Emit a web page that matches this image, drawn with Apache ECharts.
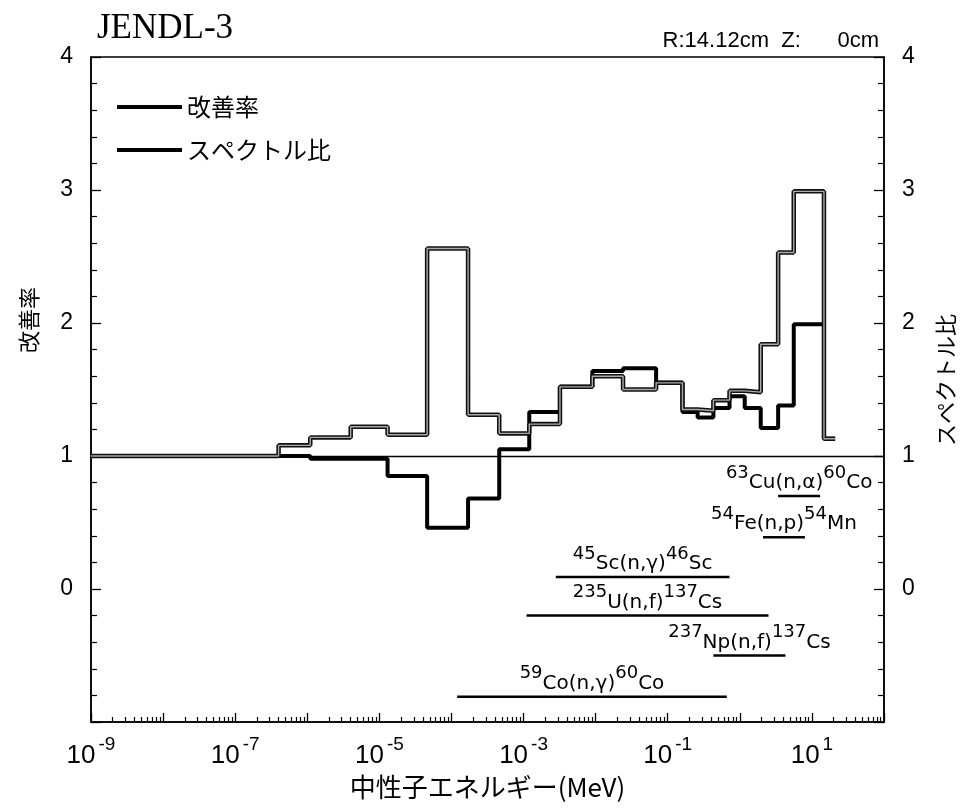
<!DOCTYPE html>
<html>
<head>
<meta charset="utf-8">
<title>JENDL-3</title>
<script src="https://cdn.jsdelivr.net/npm/echarts@6/dist/echarts.min.js"></script>
<style>
html, body { margin: 0; padding: 0; background: #fff; }
#chart { width: 964px; height: 808px; }
</style>
</head>
<body>
<div id="chart"></div>
<script>
"use strict";

/*****Data start*****/
// energy group boundaries (MeV)
var groupEdges = [1e-9, 4e-7, 1.1e-6, 4e-6, 1.3e-5, 4.6e-5, 1.7e-4, 4.6e-4, 1.2e-3, 3.2e-3, 9e-3,
	2.4e-2, 6.9e-2, 0.16, 0.26, 0.43, 0.72, 1.17, 1.95, 3.4, 5.6, 14.7, 21];
// スペクトル比 per group
var spectrumRatio = [1.0, 1.08, 1.14, 1.22, 1.16, 2.56, 1.31, 1.17, 1.24, 1.52, 1.60,
	1.50, 1.55, 1.35, 1.34, 1.42, 1.49, 1.48, 1.84, 2.53, 2.99, 1.13];
// 改善率 per group
var improveRate = [1.0, 1.0, 0.98, 0.98, 0.85, 0.46, 0.68, 1.05, 1.33, 1.52, 1.64,
	1.66, 1.55, 1.33, 1.29, 1.36, 1.45, 1.36, 1.21, 1.38, 1.99, 1.13];

// reaction response ranges
var reactionLabels = [
	'{s|63}{b|Cu(n,α)}{s|60}{b|Co}',
	'{s|54}{b|Fe(n,p)}{s|54}{b|Mn}',
	'{s|45}{b|Sc(n,γ)}{s|46}{b|Sc}',
	'{s|235}{b|U(n,f)}{s|137}{b|Cs}',
	'{s|237}{b|Np(n,f)}{s|137}{b|Cs}',
	'{s|59}{b|Co(n,γ)}{s|60}{b|Co}'
];
var reactionLow = [3.4, 2.1, 2.8e-3, 1.1e-3, 0.43, 1.2e-4];
var reactionHigh = [13, 8, 0.72, 2.5, 4.3, 0.66];
var reactionLevel = [0.70, 0.39, 0.09, -0.2, -0.5, -0.81];

// tick values
var decadeTicks = [];
var labelTicks = [];
var minorTicks = [];
for (var e = -9; e <= 2; e++) {
	decadeTicks.push(Number('1e' + e));
	if (Math.abs(e) % 2 === 1) labelTicks.push(Number('1e' + e));
	if (e < 2) {
		for (var k = 2; k <= 9; k++) minorTicks.push(Number(k + 'e' + e));
	}
}
/*****Data end*****/

var sansFont = "'Liberation Sans', Arial, sans-serif";
var noteFont = "'DejaVu Sans', sans-serif";
var jpFont = "'Noto Sans CJK JP', sans-serif";

var stepPoints = function(edges, vals) {
	var pts = [];
	for (var i = 0; i < vals.length; i++) pts.push([edges[i], vals[i]]);
	pts.push([edges[vals.length], vals[vals.length - 1]]);
	return pts;
};

var reactionData = [];
for (var r = 0; r < reactionLabels.length; r++) {
	reactionData.push([reactionLow[r], reactionHigh[r], reactionLevel[r], r]);
}

var yAxisCommon = function(pos) {
	return {
		type: 'value',
		position: pos,
		min: -1,
		max: 4,
		interval: 1,
		axisLine: { show: true, onZero: false, lineStyle: { color: '#000', width: 1.5 } },
		axisTick: { show: true, inside: true, length: 10, lineStyle: { color: '#000', width: 1.3 } },
		minorTick: { show: true, splitNumber: 5, length: 6, lineStyle: { color: '#000', width: 1.2 } },
		splitLine: { show: false },
		axisLabel: {
			color: '#000',
			fontSize: 23,
			fontFamily: sansFont,
			margin: 18,
			formatter: function(v) { return v < 0 ? '' : String(v); }
		}
	};
};

/*****E-Charts function start*****/
var chart = echarts.init(document.getElementById('chart'));
var option = {
	animation: false,
	backgroundColor: '#fff',
	title: [
		{
			text: 'JENDL-3',
			left: 92,
			top: 6,
			textStyle: { fontFamily: "'Liberation Serif', serif", fontSize: 35, fontWeight: 'normal', color: '#000' }
		},
		{
			text: 'R:14.12cm  Z:      0cm',
			right: 80,
			top: 25,
			textStyle: { fontFamily: sansFont, fontSize: 22, fontWeight: 'normal', color: '#000' }
		}
	],
	legend: {
		data: ['改善率', 'スペクトル比'],
		orient: 'vertical',
		left: 112,
		top: 90,
		icon: 'rect',
		itemWidth: 65,
		itemHeight: 4,
		itemGap: 19,
		textStyle: { fontFamily: jpFont, fontSize: 24, color: '#000' }
	},
	grid: {
		left: 91,
		right: 80,
		top: 57,
		bottom: 86,
		show: true,
		borderColor: '#000',
		borderWidth: 1.5
	},
	xAxis: [
		{
			type: 'log',
			logBase: 10,
			min: 1e-9,
			max: 1e2,
			position: 'bottom',
			name: '中性子エネルギー(MeV)',
			nameLocation: 'middle',
			nameGap: 52,
			nameTextStyle: { fontFamily: jpFont, fontSize: 26, color: '#000' },
			axisLine: { show: true, onZero: false, lineStyle: { color: '#000', width: 1.5 } },
			axisTick: { show: true, inside: true, length: 9, customValues: decadeTicks, lineStyle: { color: '#000', width: 1.3 } },
			splitLine: { show: false },
			axisLabel: {
				customValues: labelTicks,
				margin: 13,
				formatter: function(v) {
					return '{b|10}{e|' + Math.round(Math.log10(v)) + '}';
				},
				rich: {
					b: { fontFamily: sansFont, fontSize: 26, color: '#000', verticalAlign: 'bottom' },
					e: { fontFamily: sansFont, fontSize: 19, color: '#000', verticalAlign: 'bottom', padding: [0, 0, 15, 3] }
				}
			}
		},
		{
			type: 'log',
			logBase: 10,
			min: 1e-9,
			max: 1e2,
			position: 'bottom',
			axisLine: { show: false, onZero: false },
			axisTick: { show: true, inside: true, length: 5, customValues: minorTicks, lineStyle: { color: '#000', width: 1.2 } },
			axisLabel: { show: false },
			splitLine: { show: false }
		}
	],
	yAxis: [yAxisCommon('left'), yAxisCommon('right')],
	graphic: [
		{
			type: 'text',
			x: 29,
			y: 320,
			rotation: Math.PI / 2,
			style: { text: '改善率', fontFamily: jpFont, fontSize: 22, fill: '#000', align: 'center', verticalAlign: 'middle' }
		},
		{
			type: 'text',
			x: 946,
			y: 380,
			rotation: Math.PI / 2,
			style: { text: 'スペクトル比', fontFamily: jpFont, fontSize: 22, fill: '#000', align: 'center', verticalAlign: 'middle' }
		}
	],
	series: [
		{
			name: '改善率',
			type: 'line',
			step: 'end',
			symbol: 'none',
			color: '#000',
			lineStyle: { color: '#000', width: 4 },
			data: stepPoints(groupEdges, improveRate),
			markLine: {
				silent: true,
				symbol: 'none',
				label: { show: false },
				lineStyle: { color: '#000', width: 1.3, type: 'solid' },
				data: [{ yAxis: 1 }]
			},
			z: 3
		},
		{
			name: 'スペクトル比',
			type: 'line',
			step: 'end',
			symbol: 'none',
			color: '#000',
			lineStyle: { color: '#111', width: 4.5 },
			data: stepPoints(groupEdges, spectrumRatio),
			z: 4
		},
		{
			// inner light stroke gives the double-line look of the スペクトル比 trace
			name: 'スペクトル比_inner',
			type: 'line',
			step: 'end',
			symbol: 'none',
			lineStyle: { color: '#aaa', width: 1.4 },
			data: stepPoints(groupEdges, spectrumRatio),
			z: 5
		},
		{
			name: 'reactions',
			type: 'custom',
			encode: { x: [0, 1], y: 2 },
			data: reactionData,
			renderItem: function(params, api) {
				var a = api.coord([api.value(0), api.value(2)]);
				var b = api.coord([api.value(1), api.value(2)]);
				return {
					type: 'group',
					children: [
						{
							type: 'line',
							shape: { x1: a[0], y1: a[1], x2: b[0], y2: b[1] },
							style: { stroke: '#000', lineWidth: 2.5 }
						},
						{
							type: 'text',
							x: (a[0] + b[0]) / 2,
							y: a[1] - 3,
							style: {
								text: reactionLabels[api.value(3)],
								align: 'center',
								verticalAlign: 'bottom',
								fill: '#000',
								rich: {
									s: { fontFamily: noteFont, fontSize: 18, fill: '#000', verticalAlign: 'bottom', padding: [0, 0, 11, 0] },
									b: { fontFamily: noteFont, fontSize: 20, fill: '#000', verticalAlign: 'bottom' }
								}
							}
						}
					]
				};
			},
			z: 6
		}
	]
};

chart.setOption(option);
/*****E-Charts function end*****/
</script>
</body>
</html>
